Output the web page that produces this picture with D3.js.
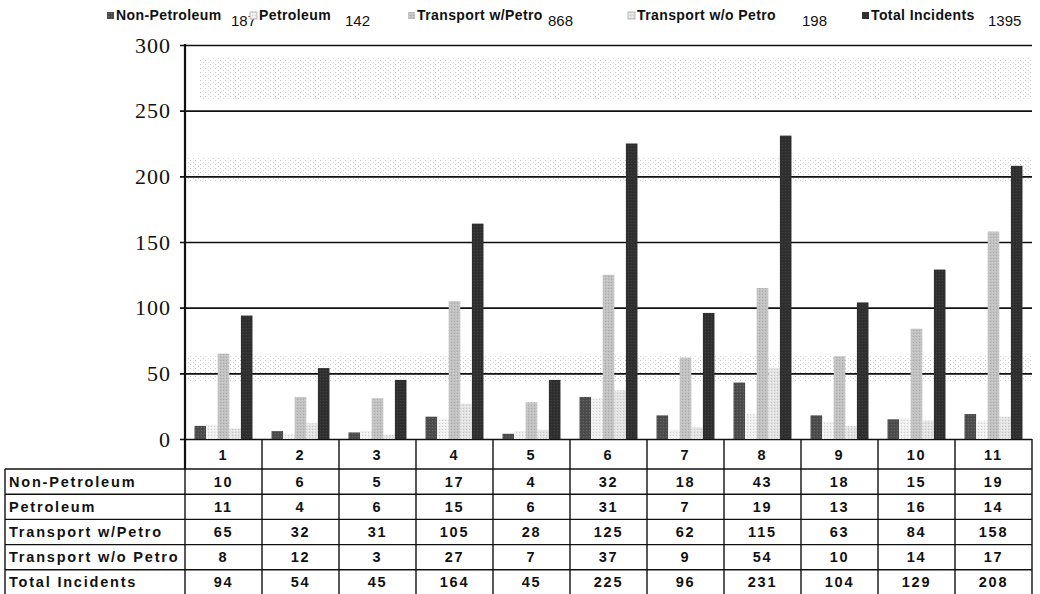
<!DOCTYPE html>
<html lang="en">
<head>
<meta charset="utf-8">
<title>Incidents by month</title>
<script src="https://cdn.jsdelivr.net/npm/d3@7"></script>
<style>
  body { margin: 0; background: #fff; }
  svg { display: block; }
  .tbl text { font: bold 14.5px "Liberation Sans", Arial, sans-serif; letter-spacing: 1.8px; fill: #111; }
  .leg text { font: bold 14px "Liberation Sans", Arial, sans-serif; letter-spacing: 0.4px; fill: #111; }
  .leg text.sum { font-weight: normal; font-size: 15px; letter-spacing: 0; }
  .yax text { font: 22px "Liberation Serif", "Times New Roman", serif; letter-spacing: 1px; fill: #111; }
</style>
</head>
<body>
<svg width="1040" height="594"></svg>
<script>
// data
var groups = ["1", "2", "3", "4", "5", "6", "7", "8", "9", "10", "11"];
var seriesNames = ["Non-Petroleum", "Petroleum", "Transport w/Petro", "Transport w/o Petro", "Total Incidents"];
var nonPetroleum = [10, 6, 5, 17, 4, 32, 18, 43, 18, 15, 19];
var petroleum = [11, 4, 6, 15, 6, 31, 7, 19, 13, 16, 14];
var transportWithPetro = [65, 32, 31, 105, 28, 125, 62, 115, 63, 84, 158];
var transportNoPetro = [8, 12, 3, 27, 7, 37, 9, 54, 10, 14, 17];
var totalIncidents = [94, 54, 45, 164, 45, 225, 96, 231, 104, 129, 208];
var yTicks = [0, 50, 100, 150, 200, 250, 300];

var seriesValues = [nonPetroleum, petroleum, transportWithPetro, transportNoPetro, totalIncidents];
var fills = ["#4d4d4d", "#efefef", "#c2c2c2", "#e2e2e2", "#303030"];

var svg = d3.select("svg");
var defs = svg.append("defs");

// rough stipple textures like the scan
fills.forEach(function(c, i) {
  var p = defs.append("pattern").attr("id", "tex" + i)
      .attr("width", 3).attr("height", 3).attr("patternUnits", "userSpaceOnUse");
  p.append("rect").attr("width", 3).attr("height", 3).attr("fill", c);
  p.append("rect").attr("x", 1).attr("y", 1).attr("width", 1).attr("height", 1)
      .attr("fill", d3.color(c).brighter(i == 0 || i == 4 ? 0.8 : 0.2));
  p.append("rect").attr("x", 2).attr("y", 0).attr("width", 1).attr("height", 1)
      .attr("fill", d3.color(c).darker(0.4));
});
var noise = defs.append("pattern").attr("id", "noise")
    .attr("width", 5).attr("height", 4).attr("patternUnits", "userSpaceOnUse");
noise.append("rect").attr("x", 0).attr("y", 0).attr("width", 1).attr("height", 1).attr("fill", "#9a9a9a");
noise.append("rect").attr("x", 3).attr("y", 2).attr("width", 1).attr("height", 1).attr("fill", "#b0b0b0");

var plotL = 185, plotR = 1032, plotT = 45, base = 439;

var x0 = d3.scaleBand().domain(groups).range([plotL, plotR]);
var x1 = d3.scaleBand().domain(seriesNames).range([0, x0.bandwidth()]).paddingOuter(0.82);
var y = d3.scaleLinear().domain([0, 300]).range([base, plotT]);

// scanner speckle bands in the background
var bands = [[258, 290, 200], [196, 214, plotL], [44, 63, plotL]];
svg.append("g").selectAll("rect").data(bands).enter().append("rect")
    .attr("x", function(d) { return d[2]; })
    .attr("y", function(d) { return y(d[1]); })
    .attr("width", function(d) { return plotR - d[2]; })
    .attr("height", function(d) { return y(d[0]) - y(d[1]); })
    .attr("fill", "url(#noise)").attr("opacity", 0.55);

// gridlines + axis
var yAxis = svg.append("g").attr("class", "yax")
    .attr("transform", "translate(" + plotL + ",0)")
    .call(d3.axisLeft(y).tickValues(yTicks).tickSize(-(plotR - plotL)).tickPadding(14));
yAxis.select(".domain").remove();
yAxis.selectAll("line").attr("stroke", "#111").attr("stroke-width", 1.6).attr("x1", -5);

svg.append("line").attr("x1", plotL).attr("x2", plotL).attr("y1", plotT - 1).attr("y2", 469)
    .attr("stroke", "#111").attr("stroke-width", 2.2);

// bars
var rows = groups.map(function(g, i) {
  return seriesNames.map(function(s, k) { return { g: g, s: s, k: k, v: seriesValues[k][i] }; });
});
svg.append("g").selectAll("g").data(rows).enter().append("g")
    .attr("transform", function(d) { return "translate(" + x0(d[0].g) + ",0)"; })
  .selectAll("rect").data(function(d) { return d; }).enter().append("rect")
    .attr("x", function(d) { return x1(d.s); })
    .attr("width", x1.bandwidth())
    .attr("y", function(d) { return y(d.v); })
    .attr("height", function(d) { return base - y(d.v); })
    .attr("fill", function(d) { return "url(#tex" + d.k + ")"; });

// data table
var rowH = 25.2, headTop = base, headBot = 469;
var tbl = svg.append("g").attr("class", "tbl");
var tableBot = headBot + rowH * seriesNames.length;

tbl.selectAll("text.hd").data(groups).enter().append("text")
    .attr("class", "hd")
    .attr("x", function(d) { return x0(d) + x0.bandwidth() / 2; })
    .attr("y", (headTop + headBot) / 2 + 6)
    .attr("text-anchor", "middle")
    .text(function(d) { return d; });

seriesNames.forEach(function(s, k) {
  var ty = headBot + rowH * k + rowH / 2 + 5;
  tbl.append("text").attr("x", 9).attr("y", ty).text(s);
  tbl.selectAll("text.r" + k).data(seriesValues[k]).enter().append("text")
      .attr("class", "r" + k)
      .attr("x", function(d, i) { return x0(groups[i]) + x0.bandwidth() / 2; })
      .attr("y", ty)
      .attr("text-anchor", "middle")
      .text(function(d) { return d; });
});

var hLines = d3.range(seriesNames.length + 1).map(function(k) { return headBot + rowH * k; });
tbl.selectAll("line.h").data(hLines).enter().append("line")
    .attr("x1", 5).attr("x2", plotR)
    .attr("y1", function(d) { return d; }).attr("y2", function(d) { return d; })
    .attr("stroke", "#111").attr("stroke-width", 1.4);
var vLines = groups.map(function(g) { return x0(g); }).concat([plotR]);
tbl.selectAll("line.v").data(vLines).enter().append("line")
    .attr("x1", function(d) { return d; }).attr("x2", function(d) { return d; })
    .attr("y1", headTop).attr("y2", tableBot)
    .attr("stroke", "#111").attr("stroke-width", 1.4);
tbl.append("line").attr("x1", 5).attr("x2", 5).attr("y1", headBot).attr("y2", tableBot)
    .attr("stroke", "#111").attr("stroke-width", 1.4);

// legend with series totals
var legX = [107, 250, 408, 628, 862];
var sumOff = [124, 95, 140, 174, 126];
var leg = svg.append("g").attr("class", "leg");
seriesNames.forEach(function(s, k) {
  var g = leg.append("g").attr("transform", "translate(" + legX[k] + ",0)");
  g.append("rect").attr("x", 0).attr("y", 12).attr("width", 7).attr("height", 7)
      .attr("fill", "url(#tex" + k + ")").attr("stroke", k == 1 || k == 3 ? "#bbb" : "none");
  g.append("text").attr("x", 9).attr("y", 20).text(s);
  g.append("text").attr("class", "sum").attr("x", sumOff[k]).attr("y", 26)
      .text(d3.sum(seriesValues[k]));
});
</script>
</body>
</html>
